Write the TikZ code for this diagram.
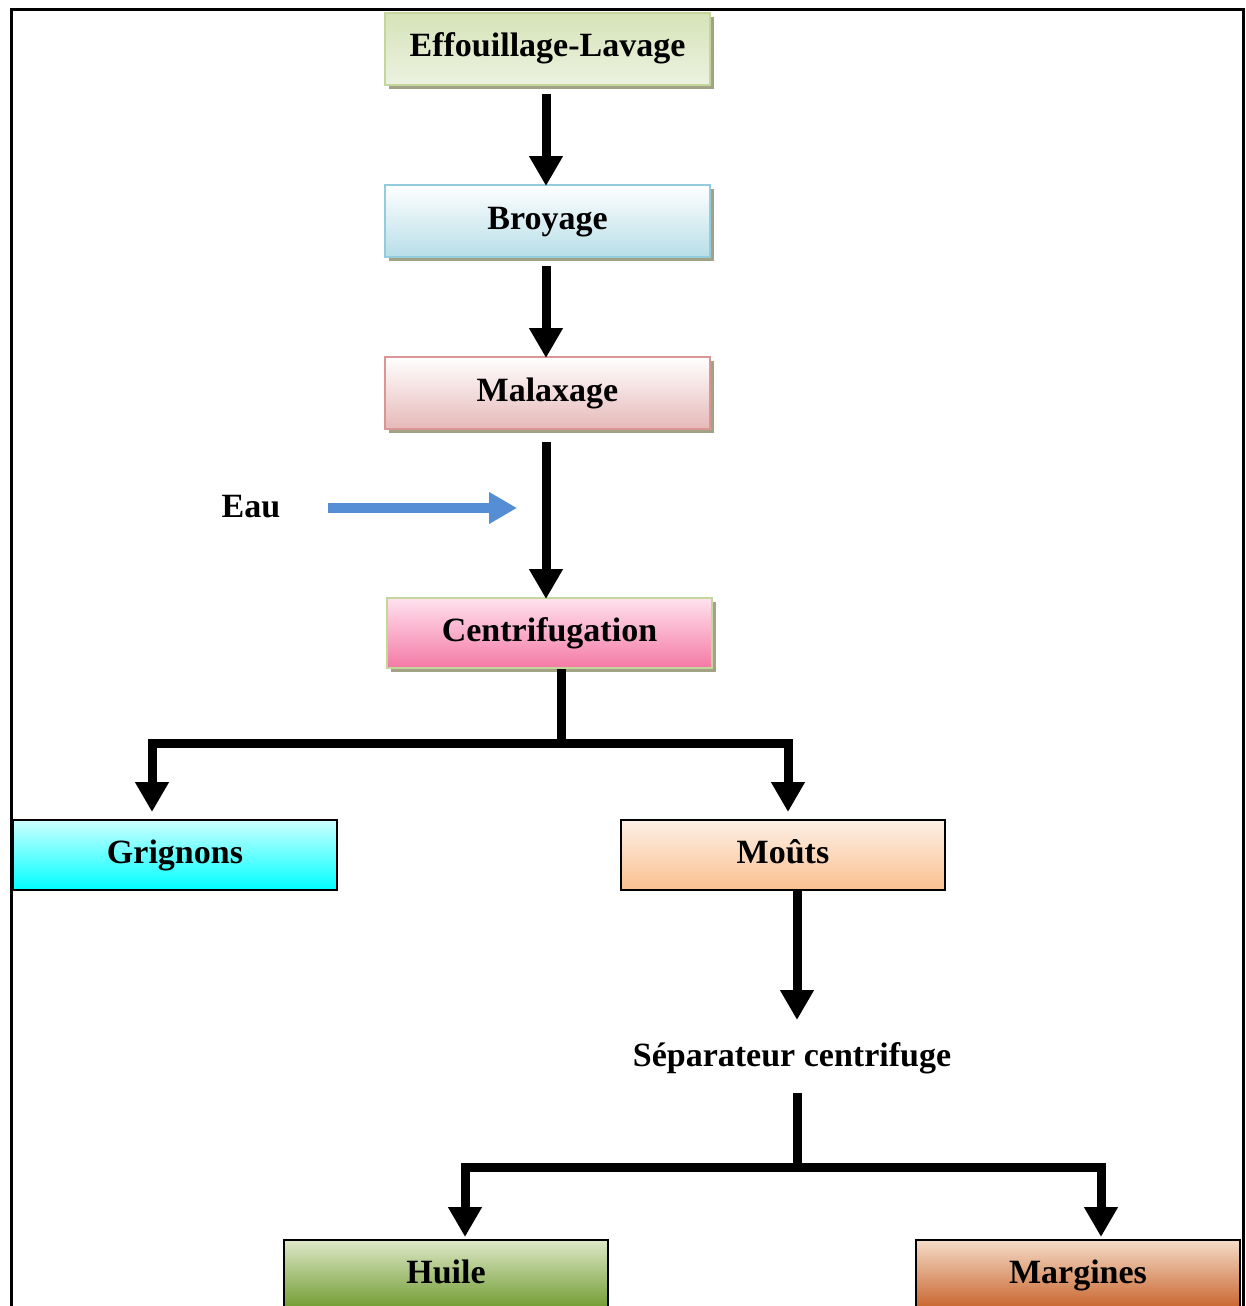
\documentclass[tikz,border=0pt]{standalone}
\usepackage{fontspec}
\setmainfont{Liberation Serif}
\usetikzlibrary{arrows.meta,shadows,calc}
\definecolor{shadowc}{HTML}{A2A384}
\definecolor{eauc}{HTML}{558ED5}
\begin{document}
\begin{tikzpicture}[x=1pt,y=-1pt,
  box/.style={rectangle, minimum width=325pt, minimum height=72pt, inner sep=0pt,
    text height=23pt, text depth=7pt,
    font=\fontsize{34}{40}\selectfont\bfseries, line width=2pt},
  shbox/.style={box, drop shadow={shadow xshift=4pt, shadow yshift=-4pt, fill=shadowc, opacity=1}},
  plainbox/.style={box, minimum width=324pt, minimum height=70pt, draw=black, line width=1.5pt},
  blk/.style={line width=9pt, line join=miter, draw=black},
  blkarrow/.style={blk, -{Triangle[width=32pt,length=30pt]}},
  lbl/.style={font=\fontsize{34}{40}\selectfont\bfseries, inner sep=0pt, text height=23pt, text depth=7pt}
]
\clip (0,0) rectangle (1246,1306);
\fill[white] (0,0) rectangle (1246,1306);
\draw[line width=3pt] (11,10) rectangle (1243,1330);

\node[shbox, draw={rgb,255:red,195;green,214;blue,155}, top color={rgb,255:red,214;green,227;blue,184}, bottom color={rgb,255:red,236;green,242;blue,224}] (e) at (547.5,49) {Effouillage-Lavage};
\node[shbox, draw={rgb,255:red,147;green,205;blue,221}, top color=white, bottom color={rgb,255:red,183;green,222;blue,232}] (b) at (547.5,221) {Broyage};
\node[shbox, draw={rgb,255:red,217;green,150;blue,148}, top color=white, bottom color={rgb,255:red,230;green,185;blue,184}] (ma) at (547.5,393) {Malaxage};
\node[shbox, minimum height=70pt, draw={rgb,255:red,195;green,214;blue,155}, top color={rgb,255:red,255;green,226;blue,238}, bottom color={rgb,255:red,244;green,121;blue,165}] (c) at (549.5,633) {Centrifugation};

\node[plainbox, top color={rgb,255:red,204;green,255;blue,255}, bottom color={rgb,255:red,0;green,255;blue,255}] (g) at (175,855) {Grignons};
\node[plainbox, top color={rgb,255:red,253;green,240;blue,230}, bottom color={rgb,255:red,250;green,192;blue,143}] (m) at (783,855) {Moûts};
\node[plainbox, top color={rgb,255:red,221;green,232;blue,200}, bottom color={rgb,255:red,111;green,154;blue,46}] (h) at (446,1275) {Huile};
\node[plainbox, top color={rgb,255:red,244;green,220;blue,200}, bottom color={rgb,255:red,200;green,98;blue,42}] (mg) at (1078,1275) {Margines};

\node[lbl] (eau) at (251,509) {Eau};
\node[lbl] (sep) at (792,1058) {Séparateur centrifuge};

\coordinate (eauend) at (517,508);
\coordinate (csplit) at (561,743);
\coordinate (gin) at (152,812);
\coordinate (min) at (788,812);
\coordinate (sepin) at (797,1020);
\coordinate (sepout) at (797,1093);
\coordinate (ssplit) at (797,1167);
\coordinate (hin) at (465,1237);
\coordinate (mgin) at (1101,1237);

\draw[blkarrow, shorten <=8pt] ([xshift=-1.5pt]e.south) -- ([xshift=-1.5pt,yshift=-2pt]b.north);
\draw[blkarrow, shorten <=8pt] ([xshift=-1.5pt]b.south) -- ([xshift=-1.5pt,yshift=-2pt]ma.north);
\draw[blkarrow, shorten <=12pt] ([xshift=-1.5pt]ma.south) -- ([xshift=-3.5pt,yshift=-2pt]c.north);
\draw[line width=10pt, draw=eauc, -{Triangle[width=30pt,length=28pt]}, shorten <=48pt] (eau.east |- eauend) -- (eauend);

\draw[blk] ([xshift=11.5pt]c.south) -- ([yshift=4.5pt]csplit);
\draw[blkarrow] (csplit) -| (gin);
\draw[blkarrow] (csplit) -| (min);
\draw[blkarrow] ([xshift=14pt]m.south) -- (sepin);
\draw[blk] (sepout) -- ([yshift=4.5pt]ssplit);
\draw[blkarrow] (ssplit) -| (hin);
\draw[blkarrow] (ssplit) -| (mgin);
\end{tikzpicture}
\end{document}
